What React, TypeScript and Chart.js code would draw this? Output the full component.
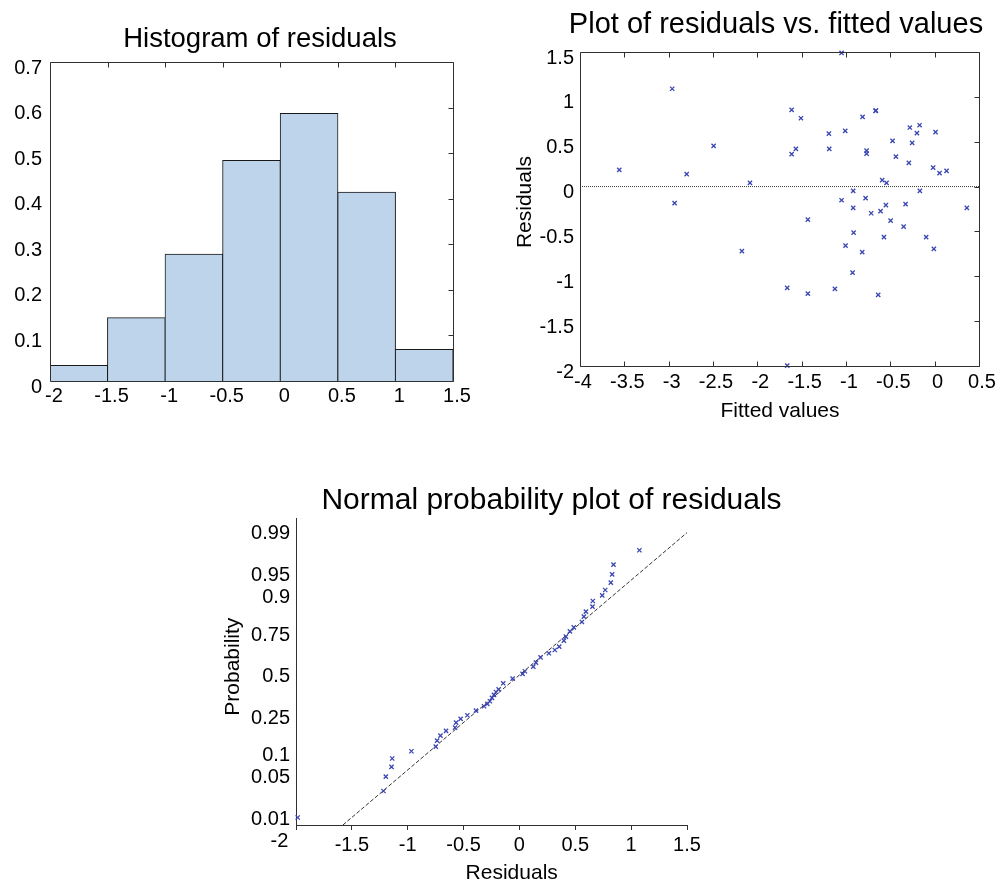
import React, { useEffect, useRef } from 'react';
import { Chart, registerables } from 'chart.js';

Chart.register(...registerables);

// ------------------------------------------------------------------
// Data
// ------------------------------------------------------------------

// Histogram of residuals (density per 0.5-wide bin)
const histBinCenters = [-1.75, -1.25, -0.75, -0.25, 0.25, 0.75, 1.25];
const histDensity = [0.034, 0.139, 0.278, 0.484, 0.587, 0.414, 0.069];
const histXTicks = [-2, -1.5, -1, -0.5, 0, 0.5, 1, 1.5];
const histYTicks = [0, 0.1, 0.2, 0.3, 0.4, 0.5, 0.6, 0.7];

// Residuals vs fitted values
const fittedValues = [
  -3.557, -2.96, -2.797, -2.493, -2.083, -1.613, -1.508, -1.613, -1.565, -1.193,
  -1.189, -1.05, -1.009, -0.813, -0.667, -0.662, -0.768, -0.768, -0.475, -0.437,
  -0.28, -0.17, -0.2, -0.254, -0.291, 0.01, -0.017, 0.055, 0.134, -0.592,
  -0.543, -0.919, -0.167, -2.933, -2.174, -1.05, -0.779, -0.919, -0.716, -0.61,
  -0.55, -0.328, 0.363, -1.43, -0.497, -0.35, -0.914, -0.572, -0.096, -1.005,
  -0.817, -0.009, -0.926, -1.663, -1.43, -1.125, -0.637, -1.663,
];
const residualValues = [
  0.186, 1.09, 0.138, 0.454, 0.041, 0.855, 0.762, 0.361, 0.42, 0.59,
  0.42, 1.49, 0.62, 0.777, 0.844, 0.848, 0.401, 0.368, 0.51, 0.334,
  0.658, 0.684, 0.595, 0.487, 0.264, 0.606, 0.212, 0.149, 0.175, 0.071,
  0.041, -0.048, -0.048, -0.185, -0.72, -0.152, -0.129, -0.237, -0.297, -0.274,
  -0.207, -0.196, -0.237, -0.368, -0.379, -0.446, -0.513, -0.564, -0.564, -0.658,
  -0.731, -0.695, -0.959, -1.129, -1.193, -1.14, -1.207, -1.995,
];
const zeroLineX = [-4, 0.5];
const zeroLineY = [0, 0];
const scatterXTicks = [-4, -3.5, -3, -2.5, -2, -1.5, -1, -0.5, 0, 0.5];
const scatterYTicks = [-2, -1.5, -1, -0.5, 0, 0.5, 1, 1.5];

// Normal probability plot
const sortedResiduals = [
  -1.985, -1.217, -1.196, -1.145, -1.139, -0.967, -0.749, -0.737, -0.707, -0.657,
  -0.576, -0.567, -0.526, -0.466, -0.389, -0.317, -0.287, -0.264, -0.246, -0.228,
  -0.21, -0.186, -0.145, -0.061, 0.028, 0.049, 0.124, 0.148, 0.189, 0.264,
  0.317, 0.356, 0.398, 0.416, 0.452, 0.487, 0.559, 0.577, 0.595, 0.654,
  0.657, 0.741, 0.768, 0.818, 0.83, 0.842, 1.074,
];
const plotProbabilities = [
  0.0111, 0.0317, 0.0523, 0.0713, 0.0918, 0.1129, 0.128, 0.1496, 0.1693, 0.1892,
  0.2041, 0.2278, 0.2464, 0.2653, 0.2908, 0.3153, 0.3289, 0.3446, 0.3647, 0.3832,
  0.4017, 0.4184, 0.457, 0.4868, 0.5175, 0.5347, 0.5647, 0.5902, 0.6232, 0.6477,
  0.6675, 0.6869, 0.7207, 0.7422, 0.7691, 0.7884, 0.8127, 0.835, 0.8543, 0.872,
  0.8903, 0.9066, 0.9203, 0.9365, 0.9516, 0.9655, 0.9799,
];
const refLineResiduals = [-1.58, 1.5];
const refLineProbabilities = [0.008, 0.9903];
const probTicks = [0.01, 0.05, 0.1, 0.25, 0.5, 0.75, 0.9, 0.95, 0.99];
const probTickLabels = ['0.01', '0.05', '0.1', '0.25', '0.5', '0.75', '0.9', '0.95', '0.99'];
const probAxisLimits = [0.008, 0.995];
const normXTicks = [-2, -1.5, -1, -0.5, 0, 0.5, 1, 1.5];

// ------------------------------------------------------------------
// Helpers
// ------------------------------------------------------------------
const FONT = '"Liberation Sans", Arial, Helvetica, sans-serif';
const TICK_FONT = { family: FONT, size: 20 };
const MARKER = '#3a46b2';
const AXIS = '#303030';

// inverse standard normal CDF (Acklam)
function probit(p: number): number {
  const a = [-39.69683028665376, 220.9460984245205, -275.9285104469687, 138.357751867269, -30.66479806614716, 2.506628277459239];
  const b = [-54.47609879822406, 161.5858368580409, -155.6989798598866, 66.80131188771972, -13.28068155288572];
  const c = [-0.007784894002430293, -0.3223964580411365, -2.400758277161838, -2.549732539343734, 4.374664141464968, 2.938163982698783];
  const d = [0.007784695709041462, 0.3224671290700398, 2.445134137142996, 3.754408661907416];
  const pl = 0.02425;
  if (p < pl) {
    const q = Math.sqrt(-2 * Math.log(p));
    return (((((c[0] * q + c[1]) * q + c[2]) * q + c[3]) * q + c[4]) * q + c[5]) / ((((d[0] * q + d[1]) * q + d[2]) * q + d[3]) * q + 1);
  }
  if (p > 1 - pl) {
    const q = Math.sqrt(-2 * Math.log(1 - p));
    return -(((((c[0] * q + c[1]) * q + c[2]) * q + c[3]) * q + c[4]) * q + c[5]) / ((((d[0] * q + d[1]) * q + d[2]) * q + d[3]) * q + 1);
  }
  const q = p - 0.5;
  const r = q * q;
  return ((((((a[0] * r + a[1]) * r + a[2]) * r + a[3]) * r + a[4]) * r + a[5]) * q) / (((((b[0] * r + b[1]) * r + b[2]) * r + b[3]) * r + b[4]) * r + 1);
}

type TextItem = {
  text: string; size: number; ax: number; dx: number; ay: number; dy: number;
  rotate?: number; align?: CanvasTextAlign;
};

function textPlugin(items: TextItem[]) {
  return {
    id: 'figureTexts',
    afterDraw(chart: any) {
      const { ctx, chartArea: a } = chart;
      ctx.save();
      ctx.fillStyle = '#000';
      ctx.textBaseline = 'alphabetic';
      for (const t of items) {
        const x = a.left + t.ax * (a.right - a.left) + t.dx;
        const y = a.top + t.ay * (a.bottom - a.top) + t.dy;
        ctx.save();
        ctx.translate(x, y);
        if (t.rotate) ctx.rotate(t.rotate);
        ctx.font = `${t.size}px ${FONT}`;
        ctx.textAlign = t.align ?? 'center';
        ctx.fillText(t.text, 0, 0);
        ctx.restore();
      }
      ctx.restore();
    },
  };
}

function framePlugin(sides: string[], tickLen = 5) {
  return {
    id: 'axesFrame',
    afterDatasetsDraw(chart: any) {
      const { ctx, chartArea: a, scales } = chart;
      const l = Math.round(a.left) + 0.5;
      const r = Math.round(a.right) + 0.5;
      const t = Math.round(a.top) + 0.5;
      const b = Math.round(a.bottom) + 0.5;
      ctx.save();
      ctx.strokeStyle = AXIS;
      ctx.lineWidth = 1;
      ctx.beginPath();
      ctx.rect(l, t, r - l, b - t);
      for (const side of sides) {
        if (side === 'top' || side === 'bottom') {
          for (const tk of scales.x.ticks) {
            const px = Math.round(scales.x.getPixelForValue(tk.value)) + 0.5;
            if (side === 'top') { ctx.moveTo(px, t); ctx.lineTo(px, t + tickLen); }
            else { ctx.moveTo(px, b); ctx.lineTo(px, b - tickLen); }
          }
        } else {
          for (const tk of scales.y.ticks) {
            const py = Math.round(scales.y.getPixelForValue(tk.value)) + 0.5;
            if (side === 'right') { ctx.moveTo(r, py); ctx.lineTo(r - tickLen, py); }
            else { ctx.moveTo(l, py); ctx.lineTo(l + tickLen, py); }
          }
        }
      }
      ctx.stroke();
      ctx.restore();
    },
  };
}

const baseOptions = {
  responsive: false,
  animation: false as const,
  devicePixelRatio: 1,
  events: [] as any[],
};
const noPlugins = { legend: { display: false }, tooltip: { enabled: false }, title: { display: false } };

function fixedTicks(values: number[]) {
  return (s: any) => { s.ticks = values.map((v) => ({ value: v })); };
}

const markerStyle = {
  pointStyle: 'crossRot', pointRadius: 3, borderWidth: 1.3,
  borderColor: MARKER, backgroundColor: MARKER, clip: false,
};

// ------------------------------------------------------------------
// Chart configs
// ------------------------------------------------------------------
function histogramConfig(): any {
  return {
    type: 'bar',
    data: {
      datasets: [{
        data: histBinCenters.map((x, i) => ({ x, y: histDensity[i] })),
        backgroundColor: '#bdd4ea',
        borderColor: '#1a1a1a',
        borderWidth: 1,
        borderSkipped: 'start',
        inflateAmount: 0.5,
        barPercentage: 1,
        categoryPercentage: 1,
      }],
    },
    options: {
      ...baseOptions,
      layout: { padding: { top: 62, left: 0, right: 37, bottom: 9 } },
      plugins: noPlugins,
      scales: {
        x: {
          type: 'linear', min: -2, max: 1.5, offset: false,
          grid: { display: false, drawTicks: false, offset: false }, border: { display: false },
          afterBuildTicks: fixedTicks(histXTicks),
          afterFit: (s: any) => { s.height = 30; },
          ticks: { autoSkip: false, maxRotation: 0, padding: 3, labelOffset: 4, font: TICK_FONT, color: '#000',
            callback: (_v: any, i: number) => String(histXTicks[i]) },
        },
        y: {
          type: 'linear', min: 0, max: 0.7,
          grid: { display: false, drawTicks: false }, border: { display: false },
          afterBuildTicks: fixedTicks(histYTicks),
          afterFit: (s: any) => { s.width = 50; },
          ticks: { autoSkip: false, padding: 8, labelOffset: 6, font: TICK_FONT, color: '#000',
            callback: (_v: any, i: number) => String(histYTicks[i]) },
        },
      },
    },
    plugins: [
      framePlugin(['top', 'right']),
      textPlugin([{ text: 'Histogram of residuals', size: 27.5, ax: 0.5, dx: 8.5, ay: 0, dy: -15.3 }]),
    ],
  };
}

function scatterConfig(): any {
  return {
    type: 'scatter',
    data: {
      datasets: [
        {
          data: fittedValues.map((x, i) => ({ x, y: residualValues[i] })),
          ...markerStyle, order: 0,
        },
        {
          data: zeroLineX.map((x, i) => ({ x, y: zeroLineY[i] })),
          showLine: true, pointRadius: 0, borderColor: '#3a3a3a', borderWidth: 1,
          borderDash: [1, 1], order: 1,
        },
      ],
    },
    options: {
      ...baseOptions,
      layout: { padding: { top: 52, left: 0, right: 25, bottom: 4 } },
      plugins: noPlugins,
      scales: {
        x: {
          type: 'linear', min: -4, max: 0.5,
          grid: { display: false, drawTicks: false }, border: { display: false },
          afterBuildTicks: fixedTicks(scatterXTicks),
          afterFit: (s: any) => { s.height = 60; },
          ticks: { autoSkip: false, maxRotation: 0, padding: 4, labelOffset: 3, font: TICK_FONT, color: '#000',
            callback: (_v: any, i: number) => String(scatterXTicks[i]) },
        },
        y: {
          type: 'linear', min: -2, max: 1.5,
          grid: { display: false, drawTicks: false }, border: { display: false },
          afterBuildTicks: fixedTicks(scatterYTicks),
          afterFit: (s: any) => { s.width = 75; },
          ticks: { autoSkip: false, padding: 6, labelOffset: 6, font: TICK_FONT, color: '#000',
            callback: (_v: any, i: number) => String(scatterYTicks[i]) },
        },
      },
    },
    plugins: [
      framePlugin(['top', 'bottom', 'right']),
      textPlugin([
        { text: 'Plot of residuals vs. fitted values', size: 29, ax: 0.5, dx: -3.5, ay: 0, dy: -18.7 },
        { text: 'Fitted values', size: 21, ax: 0.5, dx: 0.5, ay: 1, dy: 50.7 },
        { text: 'Residuals', size: 21, ax: 0, dx: -49, ay: 0.5, dy: -7, rotate: -Math.PI / 2 },
      ]),
    ],
  };
}

function normplotConfig(): any {
  return {
    type: 'scatter',
    data: {
      datasets: [
        {
          data: sortedResiduals.map((x, i) => ({ x, y: probit(plotProbabilities[i]) })),
          ...markerStyle, order: 0,
        },
        {
          data: refLineResiduals.map((x, i) => ({ x, y: probit(refLineProbabilities[i]) })),
          showLine: true, pointRadius: 0, borderColor: '#333', borderWidth: 1,
          borderDash: [4, 2], order: 1,
        },
      ],
    },
    options: {
      ...baseOptions,
      layout: { padding: { top: 48, left: 0, right: 153, bottom: 0 } },
      plugins: noPlugins,
      scales: {
        x: {
          type: 'linear', min: -2, max: 1.5,
          grid: { display: true, drawOnChartArea: false, drawTicks: true, tickLength: 5, color: AXIS },
          border: { display: true, color: AXIS, width: 1 },
          afterBuildTicks: fixedTicks(normXTicks),
          afterFit: (s: any) => { s.height = 59; },
          ticks: { autoSkip: false, maxRotation: 0, padding: 3, font: TICK_FONT, color: '#000',
            callback: (_v: any, i: number) => (i === 0 ? '' : String(normXTicks[i])) },
        },
        y: {
          type: 'linear', min: probit(probAxisLimits[0]), max: probit(probAxisLimits[1]),
          grid: { display: false, drawTicks: false },
          border: { display: true, color: AXIS, width: 1 },
          afterBuildTicks: (s: any) => { s.ticks = probTicks.map((p) => ({ value: probit(p) })); },
          afterFit: (s: any) => { s.width = 96; },
          ticks: { autoSkip: false, padding: 6, font: TICK_FONT, color: '#000',
            callback: (_v: any, i: number) => probTickLabels[i] },
        },
      },
    },
    plugins: [
      textPlugin([
        { text: 'Normal probability plot of residuals', size: 30, ax: 0.5, dx: 60, ay: 0, dy: -8.7 },
        { text: 'Residuals', size: 21, ax: 0.5, dx: 20.2, ay: 1, dy: 54.3 },
        { text: 'Probability', size: 21, ax: 0, dx: -57.4, ay: 0.5, dy: -4.8, rotate: -Math.PI / 2 },
        { text: String(normXTicks[0]), size: 20, ax: 0, dx: -7.7, ay: 1, dy: 22, align: 'right' },
      ]),
    ],
  };
}

// ------------------------------------------------------------------
// Components
// ------------------------------------------------------------------
type Box = { left: number; top: number; width: number; height: number };

function ChartBox({ box, build }: { box: Box; build: () => any }) {
  const ref = useRef<HTMLCanvasElement | null>(null);
  useEffect(() => {
    if (!ref.current) return;
    const chart = new Chart(ref.current, build());
    return () => chart.destroy();
  }, []);
  return (
    <canvas
      ref={ref}
      width={box.width}
      height={box.height}
      style={{ position: 'absolute', left: box.left, top: box.top, width: box.width, height: box.height }}
    />
  );
}

export default function App() {
  return (
    <div
      style={{
        position: 'absolute', left: 0, top: 0, width: 1004, height: 884,
        overflow: 'hidden', background: '#fff',
      }}
    >
      <ChartBox box={{ left: 0, top: 0, width: 490, height: 420 }} build={histogramConfig} />
      <ChartBox box={{ left: 505, top: 0, width: 499, height: 430 }} build={scatterConfig} />
      <ChartBox box={{ left: 200, top: 470, width: 640, height: 414 }} build={normplotConfig} />
    </div>
  );
}
